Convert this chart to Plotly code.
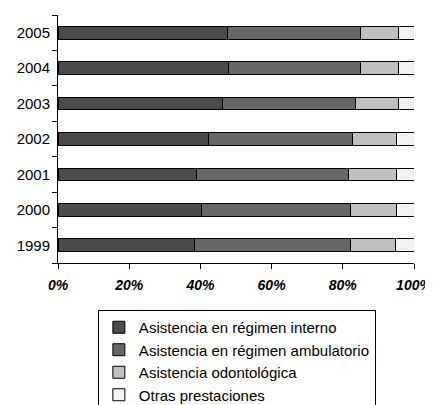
import plotly.graph_objects as go

years = ["1999", "2000", "2001", "2002", "2003", "2004", "2005"]
series_names = [
    "Asistencia en régimen interno",
    "Asistencia en régimen ambulatorio",
    "Asistencia odontológica",
    "Otras prestaciones",
]
interno = [38.4, 40.4, 38.9, 42.4, 46.3, 47.9, 47.6]
ambulatorio = [43.9, 41.9, 42.8, 40.3, 37.4, 37.0, 37.3]
odontologica = [12.5, 12.8, 13.4, 12.4, 11.9, 10.7, 10.7]
otras = [5.2, 4.9, 4.9, 4.9, 4.4, 4.4, 4.4]
x_ticks = [0, 20, 40, 60, 80, 100]
x_tick_labels = ["0%", "20%", "40%", "60%", "80%", "100%"]

colors = ["#4b4b4b", "#676767", "#c0c0c0", "#f2f2f2"]
values = [interno, ambulatorio, odontologica, otras]

fig = go.Figure()
for name, vals, col in zip(series_names, values, colors):
    fig.add_trace(go.Bar(
        y=years, x=vals, name=name, orientation="h",
        marker=dict(color=col, line=dict(color="black", width=1)),
        width=0.36,
    ))

font_family = "Arial, Liberation Sans, sans-serif"
# The page body adds an 8px offset, so the figure is sized to compensate.
fig.update_layout(
    barmode="stack",
    width=425, height=397,
    margin=dict(l=50, r=19, t=7, b=142, autoexpand=False),
    plot_bgcolor="white", paper_bgcolor="white",
    font=dict(family=font_family, color="black"),
    showlegend=True,
    legend=dict(
        x=0.112, y=-0.1895, xanchor="left", yanchor="top",
        bordercolor="black", borderwidth=1,
        font=dict(size=15, family=font_family, color="black"),
        traceorder="normal",
        bgcolor="white",
    ),
    xaxis=dict(
        range=[0, 100], tickmode="array", tickvals=x_ticks, ticktext=x_tick_labels,
        showline=True, linecolor="black", linewidth=1,
        ticks="outside", ticklen=5, tickcolor="black",
        showgrid=False, zeroline=False,
        ticklabelstandoff=4,
        tickfont=dict(size=14, family=font_family, weight="bold", style="italic"),
    ),
    yaxis=dict(
        type="category", categoryorder="array", categoryarray=years,
        showline=True, linecolor="black", linewidth=1,
        ticks="outside", ticklen=5, tickcolor="black", tickson="boundaries",
        showgrid=False, zeroline=False,
        ticklabelstandoff=4,
        tickfont=dict(size=15, family=font_family),
    ),
)

fig.write_html("out.html")
